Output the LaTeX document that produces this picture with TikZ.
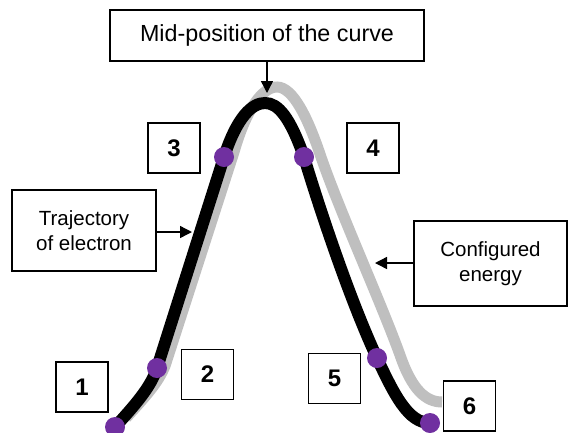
\documentclass[tikz,border=0pt]{standalone}
\usepackage{fontspec}
\setmainfont{Liberation Sans}
\usetikzlibrary{arrows.meta}
\definecolor{electronpurple}{HTML}{7030A0}
\begin{document}
\begin{tikzpicture}[x=1pt, y=-1pt,
        label box/.style={draw, line width=1.6pt, fill=white, align=center, inner sep=0pt,
            font=\fontsize{20.5}{24.5}\selectfont},
        num box/.style={draw, line width=1.6pt, fill=white, minimum width=52pt, minimum height=50pt,
            inner sep=0pt, font=\fontsize{24}{28}\selectfont\bfseries},
        pointer/.style={line width=1.4pt, -{Triangle[length=12pt, width=12pt]}},
        electron/.style={circle, fill=electronpurple, inner sep=0pt, minimum size=20pt}]
    \useasboundingbox (0,0) rectangle (569,432);
    % configured energy (grey)
    \draw[gray!50, line width=11pt] (126,418) .. controls (146,396) and (158,383) .. (165,366)
        -- (234,152) .. controls (246,110) and (262,87) .. (277,87)
        .. controls (293,87) and (308,118) .. (321,157)
        .. controls (340,212) and (380,300) .. (400,355)
        .. controls (412,390) and (426,402) .. (442,402);
    % electron trajectory (black)
    \draw[black, line width=12pt, line cap=round] (115,427) .. controls (135,405) and (151,387) .. (157,368)
        -- (224,157) .. controls (237,117) and (252,103) .. (265,103)
        .. controls (278,103) and (290,117) .. (304,157)
        .. controls (320,210) and (350,300) .. (377,358)
        .. controls (394,394) and (408,423) .. (430,423);
    % points on the trajectory
    \foreach \n/\x/\y in {1/115/427, 2/157/368, 3/224/157, 4/304/157, 5/377/358, 6/430/423}
        \node[electron] (e\n) at (\x,\y) {};
    % numbered boxes
    \foreach \n/\x/\y in {1/82/387, 2/207.5/374.5, 3/174/148, 4/373/148, 5/334.5/378.5, 6/469.5/406}
        \node[num box] (n\n) at (\x,\y) {\n};
    % labels
    \node[label box, minimum width=314pt, minimum height=51pt, font=\fontsize{23.3}{27}\selectfont] (mid) at (267,35.5) {Mid-position of the curve};
    \node[label box, minimum width=144pt, minimum height=81pt] (traj) at (84,230.5) {Trajectory\\of electron};
    \node[label box, minimum width=153pt, minimum height=85pt] (conf) at (490.5,263.5) {Configured\\energy};
    \coordinate (peak) at (267,93);
    \coordinate (trajpt) at (192,232);
    \coordinate (confpt) at (375,263);
    \draw[pointer] (mid) -- (peak);
    \draw[pointer] (traj.east |- trajpt) -- (trajpt);
    \draw[pointer] (conf.west |- confpt) -- (confpt);
\end{tikzpicture}
\end{document}
